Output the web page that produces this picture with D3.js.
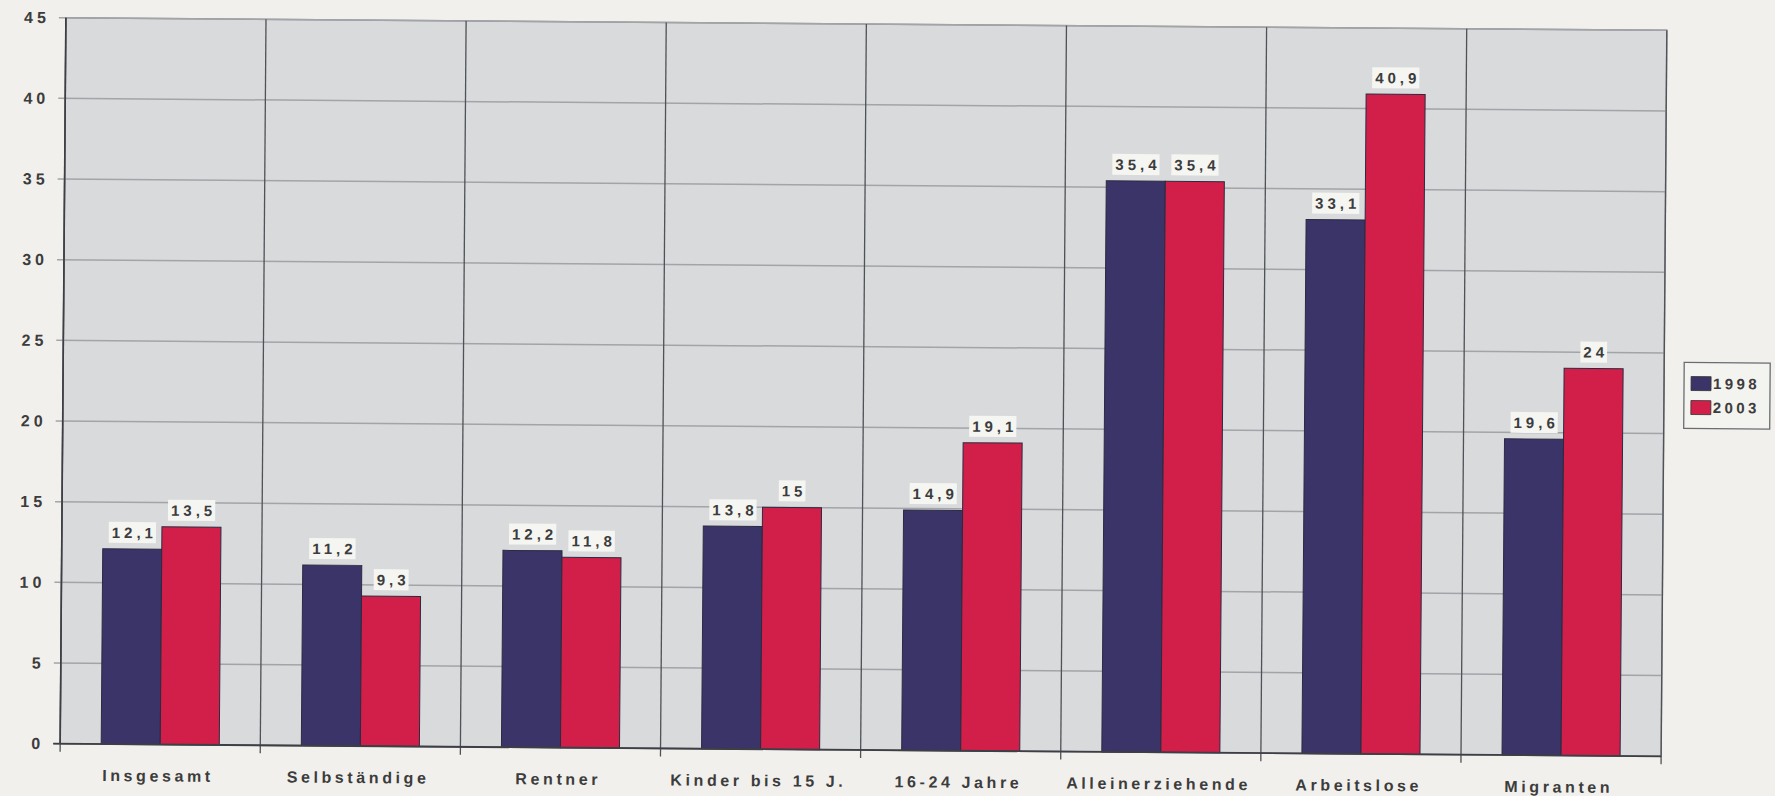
<!DOCTYPE html>
<html>
<head>
<meta charset="utf-8">
<script src="https://cdn.jsdelivr.net/npm/d3@7"></script>
<style>
  html, body { margin: 0; padding: 0; background: #f1f0ec; }
  svg { display: block; }
  text { font-family: "Liberation Sans", Arial, sans-serif; font-weight: bold; fill: #3c3c3c; }
</style>
</head>
<body>
<div id="chart"></div>
<script>
var WIDTH = 1775;
var HEIGHT = 796;

var categories = ["Insgesamt", "Selbständige", "Rentner", "Kinder bis 15 J.", "16-24 Jahre", "Alleinerziehende", "Arbeitslose", "Migranten"];
var values1998 = [12.1, 11.2, 12.2, 13.8, 14.9, 35.4, 33.1, 19.6];
var values2003 = [13.5, 9.3, 11.8, 15, 19.1, 35.4, 40.9, 24];
var seriesNames = ["1998", "2003"];
var yTicks = [0, 5, 10, 15, 20, 25, 30, 35, 40, 45];

var colors = ["#3a3469", "#d21f49"];
var margin = {left: 63, right: 111, top: 24, bottom: 46};

var rows = categories.map(function(c, i) {
  return {cat: c, vals: [values1998[i], values2003[i]]};
});

var svg = d3.select("#chart").append("svg")
  .attr("width", WIDTH)
  .attr("height", HEIGHT);

// the original is a slightly tilted scan
var g = svg.append("g")
  .attr("transform", "rotate(0.45, 863, 387)");

var x = d3.scaleBand()
  .domain(categories)
  .range([margin.left, WIDTH - margin.right]);

var y = d3.scaleLinear()
  .domain([0, 45])
  .range([HEIGHT - margin.bottom, margin.top]);

var barW = x.bandwidth() * 0.295;

// plot background
g.append("rect")
  .attr("x", x.range()[0])
  .attr("y", y(45))
  .attr("width", x.range()[1] - x.range()[0])
  .attr("height", y(0) - y(45))
  .attr("fill", "#d8dadc")
  .attr("stroke", "#8d9095")
  .attr("stroke-width", 1.5);

// horizontal grid
g.selectAll(".hgrid")
  .data(yTicks)
  .enter()
  .append("line")
  .attr("x1", x.range()[0] - 7)
  .attr("x2", x.range()[1])
  .attr("y1", function(d) { return y(d); })
  .attr("y2", function(d) { return y(d); })
  .attr("stroke", "#a2a4a8")
  .attr("stroke-width", 1.5);

// vertical grid at category boundaries
var bounds = categories.map(function(c) { return x(c); }).concat([x.range()[1]]);
g.selectAll(".vgrid")
  .data(bounds)
  .enter()
  .append("line")
  .attr("x1", function(d) { return d; })
  .attr("x2", function(d) { return d; })
  .attr("y1", y(45))
  .attr("y2", y(0) + 8)
  .attr("stroke", "#4f5256")
  .attr("stroke-width", 1.3);

// bars
var groups = g.selectAll(".cat")
  .data(rows)
  .enter()
  .append("g")
  .attr("transform", function(d) { return "translate(" + (x(d.cat) + x.bandwidth() / 2) + ",0)"; });

groups.selectAll("rect")
  .data(function(d) { return d.vals; })
  .enter()
  .append("rect")
  .attr("x", function(d, i) { return i === 0 ? -barW : 0; })
  .attr("y", function(d) { return y(d); })
  .attr("width", barW)
  .attr("height", function(d) { return y(0) - y(d); })
  .attr("fill", function(d, i) { return colors[i]; })
  .attr("stroke", "#2c2a40")
  .attr("stroke-width", 1);

// data labels
var labels = groups.selectAll(".lab")
  .data(function(d) { return d.vals; })
  .enter()
  .append("g")
  .attr("transform", function(d, i) {
    return "translate(" + ((i === 0 ? -barW / 2 : barW / 2)) + "," + (y(d) - 11) + ")";
  });

labels.append("text")
  .attr("text-anchor", "middle")
  .attr("font-size", 15)
  .attr("letter-spacing", 4)
  .attr("dx", 2)
  .text(function(d) { return String(d).replace(".", ","); })
  .each(function() {
    var b = this.getBBox();
    d3.select(this.parentNode).insert("rect", "text")
      .attr("x", b.x - 3)
      .attr("y", b.y - 2)
      .attr("width", b.width + 2)
      .attr("height", b.height + 4)
      .attr("fill", "#f5f5f2");
  });

// axis lines
g.append("line")
  .attr("x1", x.range()[0]).attr("x2", x.range()[0])
  .attr("y1", y(45)).attr("y2", y(0))
  .attr("stroke", "#3d3f44").attr("stroke-width", 1.6);
g.append("line")
  .attr("x1", x.range()[0] - 7).attr("x2", x.range()[1])
  .attr("y1", y(0)).attr("y2", y(0))
  .attr("stroke", "#3d3f44").attr("stroke-width", 1.8);

// y tick labels
g.selectAll(".ytick")
  .data(yTicks)
  .enter()
  .append("text")
  .attr("x", 47)
  .attr("y", function(d) { return y(d); })
  .attr("dy", "0.35em")
  .attr("text-anchor", "end")
  .attr("font-size", 16)
  .attr("letter-spacing", 4)
  .attr("fill", "#4a4a4a")
  .text(function(d) { return d; });

// category labels
g.selectAll(".xlab")
  .data(categories)
  .enter()
  .append("text")
  .attr("x", function(d) { return x(d) + x.bandwidth() / 2 - 2; })
  .attr("y", HEIGHT - 9)
  .attr("text-anchor", "middle")
  .attr("font-size", 16)
  .attr("letter-spacing", 3.6)
  .attr("fill", "#3a3a3a")
  .text(function(d) { return d; });

// legend
var lg = g.append("g").attr("transform", "translate(1684,356)");
lg.append("rect")
  .attr("width", 86)
  .attr("height", 66)
  .attr("fill", "#f3f3f0")
  .attr("stroke", "#6a6c70")
  .attr("stroke-width", 1.3);

var items = lg.selectAll(".item")
  .data(seriesNames)
  .enter()
  .append("g")
  .attr("transform", function(d, i) { return "translate(7," + (14 + i * 24) + ")"; });

items.append("rect")
  .attr("width", 20)
  .attr("height", 14)
  .attr("fill", function(d, i) { return colors[i]; })
  .attr("stroke", "#333")
  .attr("stroke-width", 0.8);

items.append("text")
  .attr("x", 22)
  .attr("y", 7)
  .attr("dy", "0.36em")
  .attr("font-size", 15)
  .attr("letter-spacing", 3.4)
  .attr("fill", "#444")
  .text(function(d) { return d; });
</script>
</body>
</html>
